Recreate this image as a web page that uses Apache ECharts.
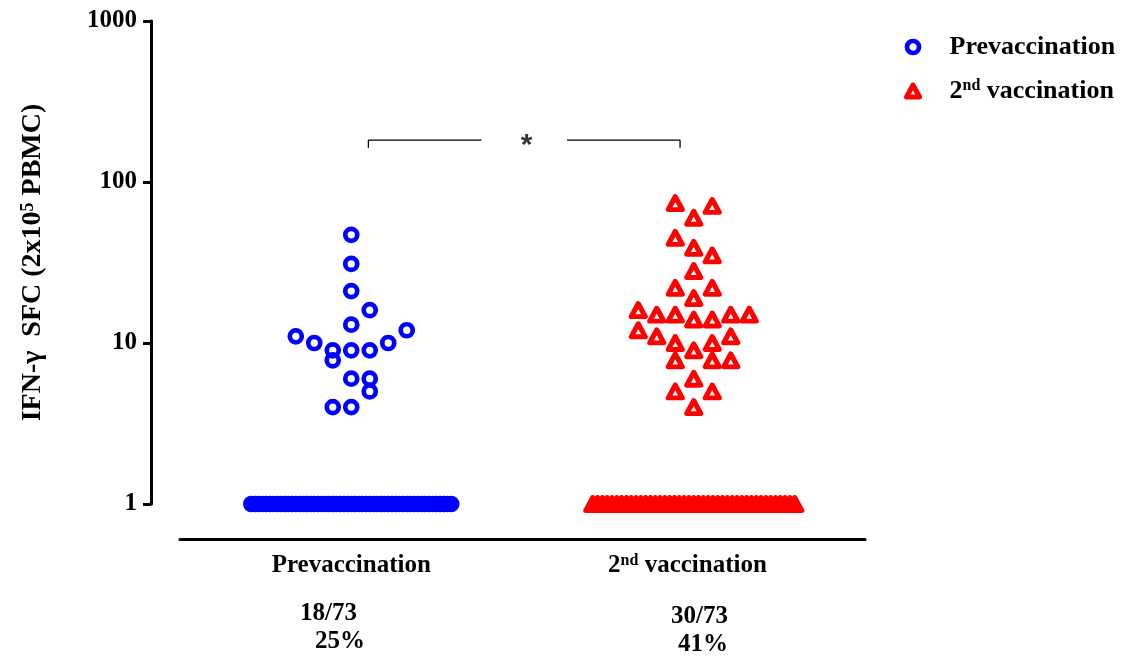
<!DOCTYPE html>
<html>
<head>
<meta charset="utf-8">
<script src="https://cdn.jsdelivr.net/npm/echarts@6/dist/echarts.min.js"></script>
<style>
  html, body { margin: 0; padding: 0; background: #fff; }
  #chart { width: 1129px; height: 663px; }
</style>
</head>
<body>
<div id="chart"></div>
<script>
const CATEGORIES = ["Prevaccination", "2nd vaccination"];
const CATEGORY_LABELS = ["Prevaccination", "2{sup|nd} vaccination"];
const RATIO_LABELS = ["18/73", "30/73"];
const PERCENT_LABELS = ["25%", "41%"];
const Y_NAME = "IFN-\u03b3  SFC (2x10{sup|5} PBMC)";

// responders: value and horizontal column (jitter)
const PREV_VALUES = [47, 31, 21, 16, 13, 11, 12, 10, 10, 9, 7.8, 9, 9, 6, 6, 5, 4, 4];
const PREV_COLS = [0, 0, 0, 1, 0, -3, 3, -2, 2, -1, -1, 0, 1, 0, 1, 1, -1, 0];

const BOOST_VALUES = [74, 71, 60, 45, 39, 35, 28, 22, 22, 19, 16, 15, 15, 14, 14, 15, 15, 12, 11, 10, 10, 11, 9, 7.8, 7.8, 7.8, 6, 5, 5, 4];
const BOOST_COLS = [-1, 1, 0, -1, 0, 1, 0, -1, 1, 0, -3, -2, -1, 0, 1, 2, 3, -3, -2, -1, 1, 2, 0, -1, 1, 2, 0, -1, 1, 0];

// non-responders (value 1): 55 and 43 symbols packed along the baseline
const BASELINE_VALUE = 1;
const PREV_BASE_COLS = [
  -5.4, -5.2, -5.0, -4.8, -4.6, -4.4, -4.2, -4.0, -3.8, -3.6, -3.4, -3.2, -3.0, -2.8,
  -2.6, -2.4, -2.2, -2.0, -1.8, -1.6, -1.4, -1.2, -1.0, -0.8, -0.6, -0.4, -0.2, 0,
  0.2, 0.4, 0.6, 0.8, 1.0, 1.2, 1.4, 1.6, 1.8, 2.0, 2.2, 2.4, 2.6, 2.8, 3.0, 3.2,
  3.4, 3.6, 3.8, 4.0, 4.2, 4.4, 4.6, 4.8, 5.0, 5.2, 5.4
];
const BOOST_BASE_COLS = [
  -5.46, -5.2, -4.94, -4.68, -4.42, -4.16, -3.9, -3.64, -3.38, -3.12, -2.86, -2.6,
  -2.34, -2.08, -1.82, -1.56, -1.3, -1.04, -0.78, -0.52, -0.26, 0,
  0.26, 0.52, 0.78, 1.04, 1.3, 1.56, 1.82, 2.08, 2.34, 2.6, 2.86, 3.12, 3.38, 3.64,
  3.9, 4.16, 4.42, 4.68, 4.94, 5.2, 5.46
];

// significance bracket (x in category units, y in SFC)
const BRACKET_LEFT = [[1.05, 163], [1.05, 182], [1.38, 182]];
const BRACKET_RIGHT = [[1.63, 182], [1.96, 182], [1.96, 163]];
const SIG_MARK = [[1.5, 182]];

const COL = 0.054;
const FONT = "'Liberation Serif', 'Times New Roman', serif";

function toPoints(center, values, cols) {
  return values.map((v, i) => [center + cols[i] * COL, v]);
}
function toBaseline(center, cols) {
  return cols.map((c) => [center + c * COL, BASELINE_VALUE]);
}

const prevData = toBaseline(1, PREV_BASE_COLS).concat(toPoints(1, PREV_VALUES, PREV_COLS));
const boostData = toBaseline(2, BOOST_BASE_COLS).concat(toPoints(2, BOOST_VALUES, BOOST_COLS));

const supRich = {
  sup: { fontFamily: FONT, fontWeight: "bold", fontSize: 16, verticalAlign: "top", color: "#000" },
};

const circleStyle = { color: "rgba(255,255,255,0)", borderColor: "#0000ff", borderWidth: 4.7, opacity: 1 };
const triangleStyle = {
  color: "rgba(255,255,255,0)",
  borderColor: "#ff0000",
  borderWidth: 5,
  borderJoin: "round",
  opacity: 1,
};

const chart = echarts.init(document.getElementById("chart"), null, { renderer: "canvas" });

chart.setOption({
  backgroundColor: "#fff",
  animation: false,
  grid: { left: 180, right: 264, top: 21, bottom: 159, containLabel: false },
  legend: {
    orient: "vertical",
    left: 899,
    top: 29,
    itemWidth: 13,
    itemHeight: 12,
    itemGap: 18,
    data: [
      { name: CATEGORIES[0], itemStyle: circleStyle },
      { name: CATEGORIES[1], itemStyle: triangleStyle },
    ],
    formatter: (name) => CATEGORY_LABELS[CATEGORIES.indexOf(name)],
    textStyle: {
      fontFamily: FONT,
      fontWeight: "bold",
      fontSize: 26,
      color: "#000",
      padding: [0, 0, 0, 25],
      rich: supRich,
    },
  },
  xAxis: {
    type: "value",
    min: 0.5,
    max: 2.5,
    interval: 0.5,
    offset: 35,
    splitLine: { show: false },
    axisTick: { show: false },
    axisLine: { show: true, lineStyle: { color: "#000", width: 3 } },
    axisLabel: {
      margin: 14,
      fontFamily: FONT,
      fontWeight: "bold",
      fontSize: 25,
      color: "#000",
      showMinLabel: false,
      showMaxLabel: false,
      formatter: (v) => (v === 1 ? CATEGORY_LABELS[0] : v === 2 ? CATEGORY_LABELS[1] + "  " : ""),
      rich: supRich,
    },
  },
  yAxis: {
    type: "log",
    logBase: 10,
    min: 1,
    max: 1000,
    offset: 29,
    name: Y_NAME,
    nameLocation: "middle",
    nameRotate: 90,
    nameGap: 104,
    nameTextStyle: {
      fontFamily: FONT,
      fontWeight: "bold",
      fontSize: 28,
      color: "#000",
      rich: { sup: { fontFamily: FONT, fontWeight: "bold", fontSize: 18, verticalAlign: "top", color: "#000" } },
    },
    splitLine: { show: false },
    minorTick: { show: false },
    axisLine: { show: true, lineStyle: { color: "#000", width: 3 } },
    axisTick: { show: true, inside: false, length: 8, lineStyle: { color: "#000", width: 3 } },
    axisLabel: {
      margin: 14,
      fontFamily: FONT,
      fontWeight: "bold",
      fontSize: 25,
      color: "#000",
      formatter: (v) => String(v),
    },
  },
  series: [
    {
      name: CATEGORIES[0],
      type: "scatter",
      data: prevData,
      symbol: "circle",
      symbolSize: 12,
      itemStyle: circleStyle,
    },
    {
      name: CATEGORIES[1],
      type: "scatter",
      data: boostData,
      symbol: "triangle",
      symbolSize: [14, 13],
      itemStyle: triangleStyle,
    },
    {
      type: "line",
      data: BRACKET_LEFT,
      symbol: "none",
      silent: true,
      lineStyle: { color: "#000", width: 1.3 },
    },
    {
      type: "line",
      data: BRACKET_RIGHT,
      symbol: "none",
      silent: true,
      lineStyle: { color: "#000", width: 1.3 },
    },
    {
      type: "scatter",
      data: SIG_MARK,
      symbolSize: 0,
      silent: true,
      label: {
        show: true,
        position: "inside",
        offset: [4, 6],
        formatter: "*",
        fontFamily: "'Liberation Sans', Arial, sans-serif",
        fontWeight: "bold",
        fontSize: 30,
        color: "#000",
      },
    },
  ],
  graphic: [
    { type: "text", left: 300, top: 601, style: { text: RATIO_LABELS[0], font: "bold 25px " + FONT, fill: "#000" } },
    { type: "text", left: 315, top: 629, style: { text: PERCENT_LABELS[0], font: "bold 25px " + FONT, fill: "#000" } },
    { type: "text", left: 671, top: 604, style: { text: RATIO_LABELS[1], font: "bold 25px " + FONT, fill: "#000" } },
    { type: "text", left: 678, top: 632, style: { text: PERCENT_LABELS[1], font: "bold 25px " + FONT, fill: "#000" } },
  ],
});

window.addEventListener("resize", () => chart.resize());
</script>
</body>
</html>
